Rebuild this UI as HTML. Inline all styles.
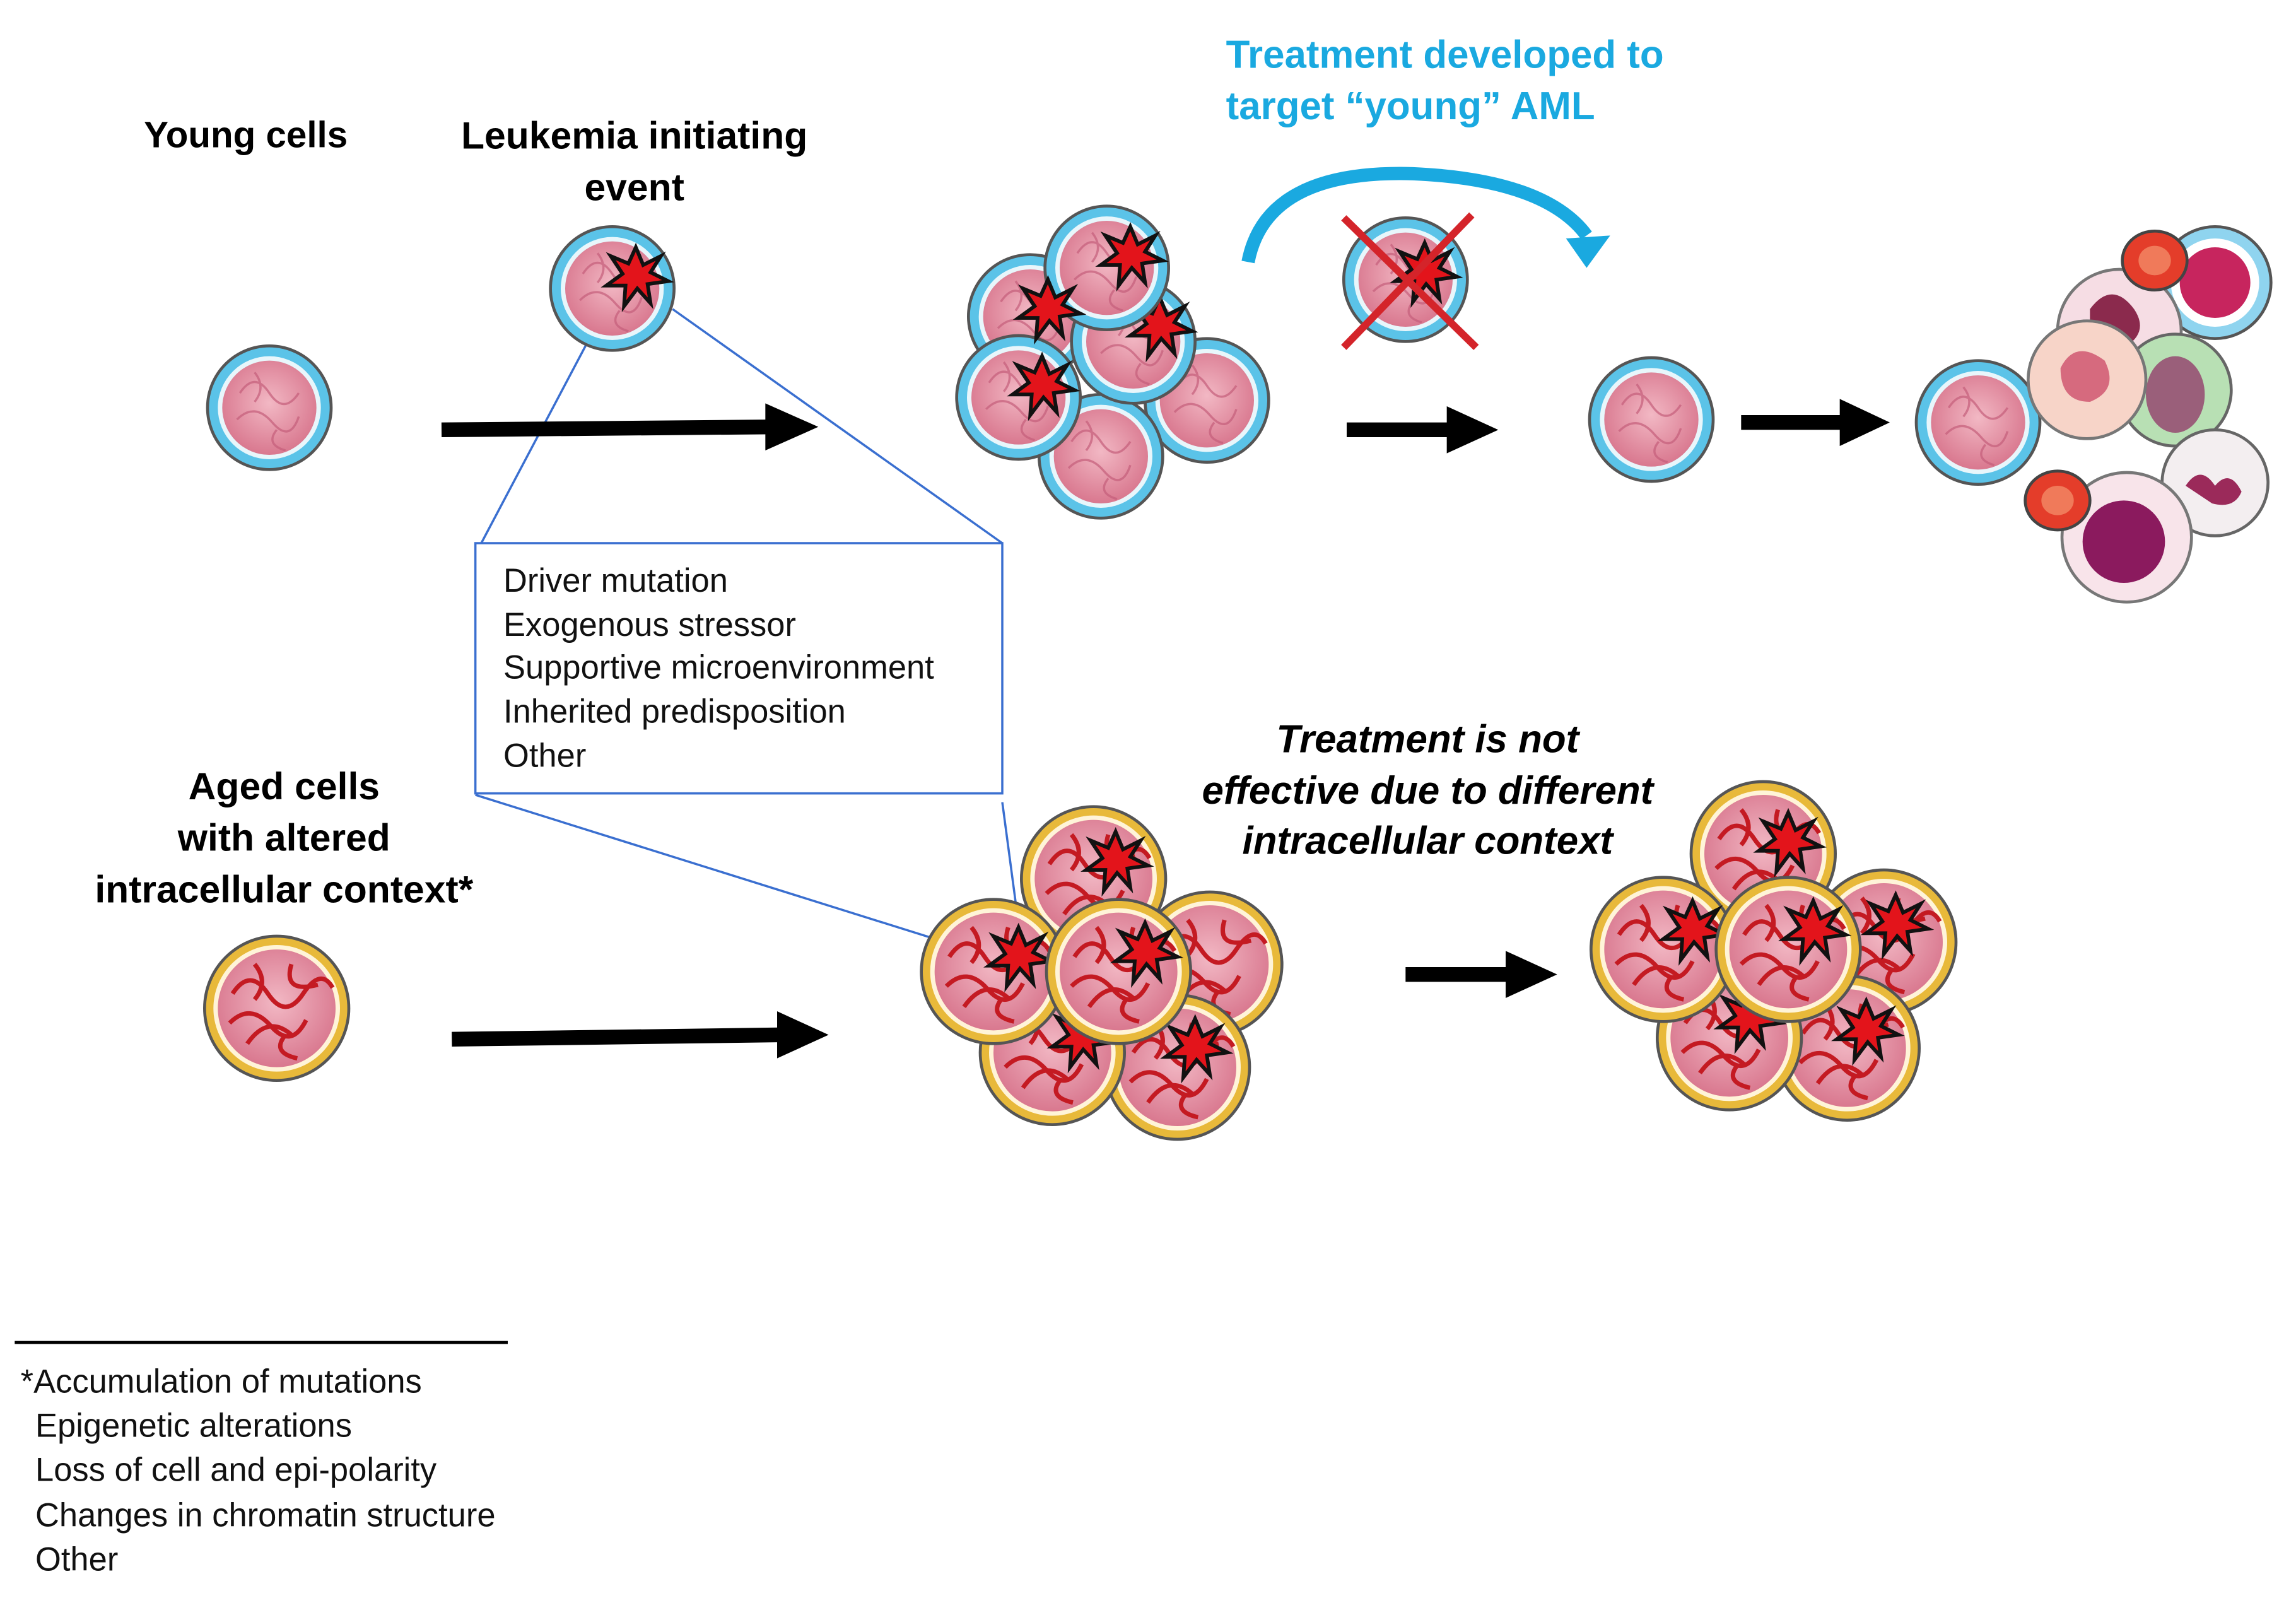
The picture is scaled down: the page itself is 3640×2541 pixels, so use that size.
<!DOCTYPE html>
<html><head><meta charset="utf-8"><style>
html,body{margin:0;padding:0;background:#fff;}
svg{display:block;}
text{font-family:"Liberation Sans","DejaVu Sans",sans-serif;}
</style></head><body>
<svg width="3640" height="2541" viewBox="0 0 1560 1089" xmlns="http://www.w3.org/2000/svg">
<defs>
<radialGradient id="pk" cx="50%" cy="45%" r="55%"><stop offset="0" stop-color="#f2b8c4"/><stop offset="1" stop-color="#d9788f"/></radialGradient>
<g id="yc">
<circle r="43" fill="#555"/><circle r="41" fill="#5bc3e8"/><circle r="35" fill="#e8f6fb"/><circle r="32" fill="url(#pk)"/>
<path d="M-20,-10 q10,-15 20,0 t20,0 M-22,8 q12,-12 24,2 t18,-4 M-10,-24 q8,10 0,20 M5,15 q-8,10 6,14" stroke="#c45e7a" stroke-width="1.5" fill="none" opacity=".7"/>
</g>
<g id="ac">
<circle r="50" fill="#555"/><circle r="48" fill="#e8b93a"/><circle r="43" fill="#fff4d8"/><circle r="40" fill="url(#pk)"/>
<path d="M-30,-10 q12,-18 24,0 t24,0 t20,-4 M-32,10 q14,-14 28,2 t24,-4 M-15,-30 q10,12 0,24 M6,18 q-10,12 8,16 M-20,24 q14,-20 30,-6 M10,-30 q-6,20 18,14" stroke="#c41a22" stroke-width="3" fill="none"/>
</g>
<g id="st"><polygon points="0,-20 5,-8 17,-14 10,-3 22,3 8,5 10,18 1,8 -8,20 -7,6 -20,6 -9,-2 -17,-14 -5,-9" fill="#e3141b" stroke="#111" stroke-width="2.5"/></g>
</defs>

<text x="167" y="100" font-size="25" font-weight="bold" text-anchor="middle">Young cells</text>
<text x="431" y="101" font-size="26" font-weight="bold" text-anchor="middle">Leukemia initiating</text>
<text x="431" y="136" font-size="26" font-weight="bold" text-anchor="middle">event</text>
<text x="833" y="46" font-size="26.5" font-weight="bold" fill="#1aa9e0">Treatment developed to</text>
<text x="833" y="81" font-size="26.5" font-weight="bold" fill="#1aa9e0">target “young” AML</text>

<g stroke="#3a6fd0" stroke-width="1.5" fill="none">
<line x1="410" y1="212" x2="327" y2="369"/><line x1="457" y1="210" x2="681" y2="369"/>
<line x1="323" y1="540" x2="690" y2="655"/><line x1="681" y1="545" x2="695" y2="650"/>
<rect x="323" y="369" width="358" height="170" fill="#fff"/>
</g>
<g font-size="22.5" fill="#111">
<text x="342" y="402">Driver mutation</text><text x="342" y="432">Exogenous stressor</text>
<text x="342" y="461">Supportive microenvironment</text><text x="342" y="491">Inherited predisposition</text>
<text x="342" y="521">Other</text></g>

<use href="#yc" x="183" y="277"/>
<use href="#yc" x="416" y="196"/><use href="#st" x="432" y="188"/>

<g stroke="#000" stroke-width="10">
<line x1="300" y1="292" x2="525" y2="290"/><line x1="915" y1="292" x2="988" y2="292"/>
<line x1="1183" y1="287" x2="1255" y2="287"/><line x1="307" y1="706" x2="533" y2="703"/>
<line x1="955" y1="662" x2="1028" y2="662"/></g>
<g fill="#000">
<polygon points="520,274 556,290 520,306"/><polygon points="983,276 1018,292 983,308"/>
<polygon points="1250,271 1284,287 1250,303"/><polygon points="528,687 563,703 528,719"/>
<polygon points="1023,646 1058,662 1023,678"/></g>

<use href="#yc" x="700" y="215"/><use href="#yc" x="820" y="272"/><use href="#yc" x="748" y="310"/>
<use href="#yc" x="770" y="232"/><use href="#st" x="788" y="222"/>
<use href="#yc" x="692" y="270"/><use href="#st" x="708" y="262"/>
<use href="#yc" x="752" y="182"/><use href="#st" x="768" y="174"/>
<use href="#st" x="712" y="210"/>

<use href="#yc" x="955" y="190"/><use href="#st" x="968" y="185"/>
<g stroke="#d4242a" stroke-width="5"><line x1="913" y1="148" x2="1003" y2="236"/><line x1="1000" y1="146" x2="913" y2="236"/></g>
<path d="M848,178 Q860,115 960,118 Q1050,122 1078,160" stroke="#1aa9e0" stroke-width="9" fill="none"/>
<polygon points="1064,162 1094,160 1078,182" fill="#1aa9e0"/>

<use href="#yc" x="1122" y="285"/>
<use href="#yc" x="1344" y="287"/>
<circle cx="1505" cy="192" r="38" fill="#8fd4ef" stroke="#555" stroke-width="2"/><circle cx="1505" cy="192" r="30" fill="#fff"/><circle cx="1505" cy="192" r="24" fill="#c7255e"/>
<circle cx="1440" cy="225" r="42" fill="#f6dde4" stroke="#777" stroke-width="2"/><path d="M1420,210 q15,-20 30,0 q10,15 -5,25 q-15,5 -25,-10z" fill="#8b2a4d"/>
<circle cx="1478" cy="265" r="38" fill="#b8e0b4" stroke="#666" stroke-width="2"/><ellipse cx="1478" cy="268" rx="20" ry="26" fill="#9a5f7a"/>
<circle cx="1418" cy="258" r="40" fill="#f7d4c8" stroke="#777" stroke-width="2"/><path d="M1400,250 q10,-20 30,-5 q10,20 -10,28 q-20,0 -20,-23z" fill="#d66a7e"/>
<ellipse cx="1464" cy="177" rx="22" ry="20" fill="#e43d2a" stroke="#444" stroke-width="2"/><ellipse cx="1464" cy="177" rx="11" ry="10" fill="#f07a5a"/>
<circle cx="1505" cy="328" r="36" fill="#f3eef0" stroke="#666" stroke-width="2"/><path d="M1485,330 q10,-15 20,0 q10,-12 18,4 q-5,12 -20,8z" fill="#9b2a5a"/>
<circle cx="1445" cy="365" r="44" fill="#f8e4ea" stroke="#777" stroke-width="2"/><circle cx="1443" cy="368" r="28" fill="#8b1a5e"/>
<ellipse cx="1398" cy="340" rx="22" ry="20" fill="#e43d2a" stroke="#444" stroke-width="2"/><ellipse cx="1398" cy="340" rx="11" ry="10" fill="#f07a5a"/>

<text x="193" y="543" font-size="26" font-weight="bold" text-anchor="middle">Aged cells</text>
<text x="193" y="578" font-size="26" font-weight="bold" text-anchor="middle">with altered</text>
<text x="193" y="613" font-size="26" font-weight="bold" text-anchor="middle">intracellular context*</text>
<use href="#ac" x="188" y="685"/>

<use href="#ac" x="743" y="597"/><use href="#st" x="758" y="585"/>
<use href="#ac" x="822" y="655"/>
<use href="#ac" x="800" y="725"/><use href="#st" x="812" y="712"/>
<use href="#ac" x="715" y="715"/><use href="#st" x="735" y="705"/>
<use href="#ac" x="675" y="660"/><use href="#st" x="692" y="650"/>
<use href="#ac" x="760" y="660"/><use href="#st" x="778" y="647"/>

<g font-size="26.5" font-weight="bold" font-style="italic" text-anchor="middle">
<text x="970" y="511">Treatment is not</text><text x="970" y="546">effective due to different</text><text x="970" y="580">intracellular context</text></g>

<use href="#ac" x="1198" y="580"/><use href="#st" x="1215" y="572"/>
<use href="#ac" x="1280" y="640"/><use href="#st" x="1288" y="628"/>
<use href="#ac" x="1255" y="712"/><use href="#st" x="1268" y="700"/>
<use href="#ac" x="1175" y="705"/><use href="#st" x="1188" y="692"/>
<use href="#ac" x="1130" y="645"/><use href="#st" x="1150" y="632"/>
<use href="#ac" x="1215" y="645"/><use href="#st" x="1232" y="632"/>

<line x1="10" y1="912" x2="345" y2="912" stroke="#000" stroke-width="2"/>
<g font-size="22.5" fill="#111">
<text x="14" y="946">*Accumulation of mutations</text><text x="24" y="976">Epigenetic alterations</text>
<text x="24" y="1006">Loss of cell and epi-polarity</text><text x="24" y="1037">Changes in chromatin structure</text>
<text x="24" y="1067">Other</text></g>
</svg>
</body></html>
